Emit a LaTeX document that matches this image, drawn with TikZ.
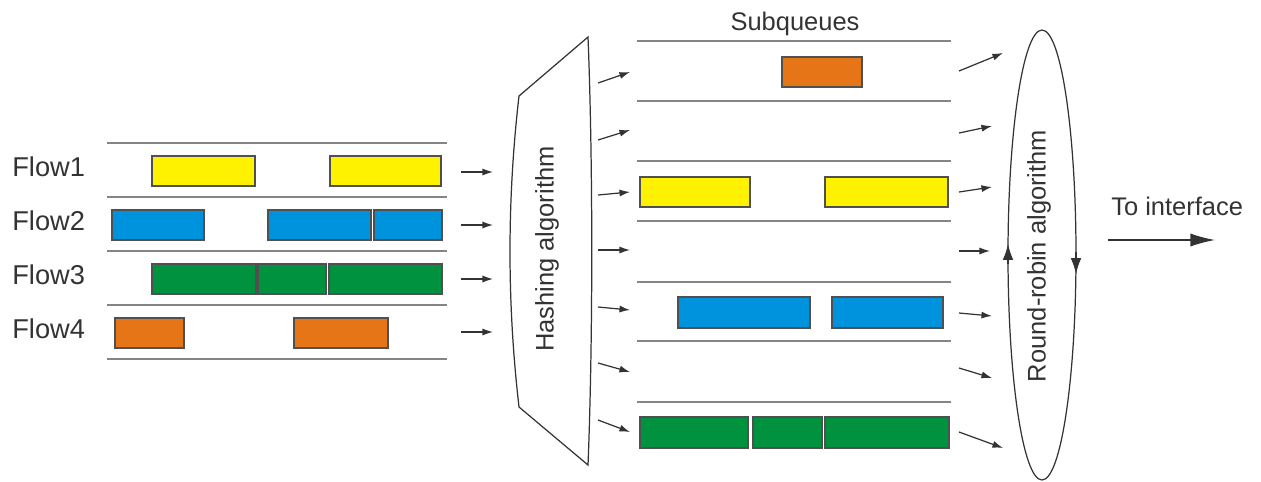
\documentclass[tikz,border=0pt]{standalone}
\usepackage{fontspec}
\setmainfont{Liberation Sans}
\usetikzlibrary{arrows.meta}
\definecolor{Ink}{HTML}{333333}
\definecolor{Rule}{HTML}{858585}
\definecolor{Edge}{HTML}{505050}
\definecolor{PktYellow}{HTML}{FFF200}
\definecolor{PktBlue}{HTML}{0093DD}
\definecolor{PktGreen}{HTML}{00923F}
\definecolor{PktOrange}{HTML}{E57517}

\begin{document}
\begin{tikzpicture}[x=0.02cm,y=-0.02cm,
  lbl/.style={text=Ink,font=\fontsize{15.5}{18}\selectfont,inner sep=0},
  txt/.style={text=Ink,font=\fontsize{14.5}{17}\selectfont,inner sep=0},
  rule/.style={draw=Rule,line width=1.4pt},
  pkt/.style={draw=Edge,line width=1pt,inner sep=0,anchor=north west},
  outline/.style={draw=Ink,line width=0.7pt},
  arr/.style={-{Latex[length=6pt,width=4pt]},line width=0.7pt,draw=Ink},
  turn/.style={-{Latex[length=9pt,width=6pt]},line width=0.7pt,draw=Ink},
  big/.style={-{Latex[length=14pt,width=7.5pt]},line width=0.8pt,draw=Ink}]
\useasboundingbox (0,0) rectangle (1261,481);

\foreach \i/\yb in {1/176,2/230,3/284,4/338}
  \node[lbl,anchor=base west] (flow\i) at (12,\yb) {Flow\i};
\foreach \y in {143,197,251,305,359}
  \draw[rule] (107,\y) -- (447,\y);
\foreach \y in {41,101,161,221,282,341,402}
  \draw[rule] (637,\y) -- (951,\y);

\foreach \nm/\c/\xa/\ya/\xb/\yb in {
  a1/PktYellow/151/155/254/185, a2/PktYellow/329/155/440/185,
  b1/PktBlue/111/209/203/239, b2/PktBlue/267/209/370/239, b3/PktBlue/373/209/441/239,
  c1/PktGreen/151/263/255/293, c2/PktGreen/257/263/325/293, c3/PktGreen/328/263/441/293,
  d1/PktOrange/114/317/183/347, d2/PktOrange/293/317/387/347,
  q1/PktOrange/781/56/861/86,
  q3a/PktYellow/639/176/749/206, q3b/PktYellow/824/176/947/206,
  q5a/PktBlue/677/296/809/327, q5b/PktBlue/831/296/942/327,
  q7a/PktGreen/639/416/747/447, q7b/PktGreen/752/416/821/447, q7c/PktGreen/824/416/948/447}
  \node[pkt,fill=\c,minimum width={(\xb-\xa)*0.02cm},minimum height={(\yb-\ya)*0.02cm}] (\nm) at (\xa,\ya) {};

\node[txt,anchor=base] (subq) at (795,30) {Subqueues};

\draw[outline] (588,37) -- (519,96) .. controls (507,200) and (507,303) .. (519,407)
  -- (588,465) .. controls (593,340) and (593,162) .. cycle;
\node[txt,rotate=90] (hash) at (547,249) {Hashing algorithm};

\draw[outline] (1042,255) ellipse [x radius=34,y radius=225];
\node[txt,rotate=90] (rr) at (1039,256) {Round-robin algorithm};
\coordinate (rrL0) at (1008,264);
\coordinate (rrL1) at (1008,244);
\coordinate (rrR0) at (1076,252);
\coordinate (rrR1) at (1076,274);
\draw[turn] (rrL0) -- (rrL1);
\draw[turn] (rrR0) -- (rrR1);

\foreach \i/\y in {1/172,2/225,3/279,4/332} {
  \coordinate (in\i) at (461,\y);
  \coordinate (hin\i) at (493,\y);
  \draw[arr] (in\i) -- (hin\i);
}
\foreach \i/\ya/\yb in {1/83/72,2/140/130,3/195/192,4/250/250,5/307/310,6/363/372,7/420/432} {
  \coordinate (hout\i) at (598,\ya);
  \coordinate (sq\i) at (630,\yb);
  \draw[arr] (hout\i) -- (sq\i);
}
\foreach \i/\ya/\xb/\yb in {1/71/1003/53,2/133/992/126,3/192/992/187,4/251/990/251,5/313/992/316,6/368/992/378,7/432/1003/448} {
  \coordinate (sqout\i) at (959,\ya);
  \coordinate (rrin\i) at (\xb,\yb);
  \draw[arr] (sqout\i) -- (rrin\i);
}

\node[txt,anchor=base west] (iface) at (1111,215) {To interface};
\coordinate (out0) at (1108,240);
\coordinate (out1) at (1215,240);
\draw[big] (out0) -- (out1);
\end{tikzpicture}
\end{document}
